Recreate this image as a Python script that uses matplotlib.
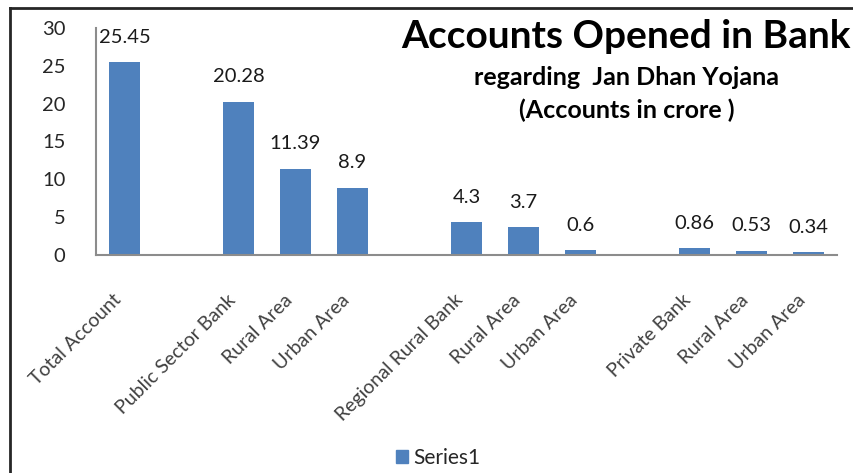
import matplotlib
matplotlib.use("Agg")
import matplotlib.pyplot as plt
from matplotlib.lines import Line2D
from matplotlib.patches import Patch

plt.rcParams['font.family'] = ['Lato', 'DejaVu Sans']

categories = ["Total Account", "", "Public Sector Bank", "Rural Area", "Urban Area", "",
              "Regional Rural Bank", "Rural Area", "Urban Area", "",
              "Private Bank", "Rural Area", "Urban Area"]
values = [25.45, None, 20.28, 11.39, 8.9, None, 4.3, 3.7, 0.6, None, 0.86, 0.53, 0.34]
value_labels = ["25.45", "", "20.28", "11.39", "8.9", "", "4.3", "3.7", "0.6", "", "0.86", "0.53", "0.34"]
series_name = "Series1"
yticks = [0, 5, 10, 15, 20, 25, 30]

W, H = 854, 473
fig = plt.figure(figsize=(W / 100, H / 100), dpi=100)
ax = fig.add_axes([96 / W, 1 - 255 / H, (837 - 96) / W, (255 - 28) / H])

bar_color = '#4F81BD'
idx = [i for i, v in enumerate(values) if v is not None]
vals = [values[i] for i in idx]
bars = ax.bar(idx, vals, width=0.56, color=bar_color)
for i, v in zip(idx, vals):
    ax.annotate(value_labels[i], (i, v), xytext=(0, 18), textcoords='offset points',
                ha='center', va='center', fontsize=14.5, color='#1a1a1a')

ax.set_xlim(-0.5, len(categories) - 0.5)
ax.set_ylim(0, 30)
ax.set_yticks(yticks)
ax.set_yticklabels([str(t) for t in yticks], fontsize=14.5, color='#262626')
ax.set_xticks(range(len(categories)))
ax.set_xticklabels(categories, rotation=45, ha='right', va='top',
                   fontsize=14, color='#404040')
ax.tick_params(axis='x', length=0, pad=26)
ax.tick_params(axis='y', length=0, pad=22)
for lbl in ax.get_yticklabels():
    lbl.set_horizontalalignment('right')
for s in ['top', 'right']:
    ax.spines[s].set_visible(False)
for s in ['left', 'bottom']:
    ax.spines[s].set_color('#8c8c8c')
    ax.spines[s].set_linewidth(1.5)

fig.text(626 / W, 1 - 36 / H, "Accounts Opened in Bank", ha='center', va='center',
         fontsize=28, fontweight='bold', color='black')
fig.text(627 / W, 1 - 77 / H, "regarding  Jan Dhan Yojana", ha='center', va='center',
         fontsize=18, fontweight='bold', color='black')
fig.text(627 / W, 1 - 110 / H, "(Accounts in crore )", ha='center', va='center',
         fontsize=18, fontweight='bold', color='black')

leg = fig.legend(handles=[Patch(color=bar_color, label=series_name)],
                 loc='center', bbox_to_anchor=(438 / W, 1 - 458 / H), frameon=False,
                 fontsize=15, handlelength=0.55, handleheight=0.55, handletextpad=0.25)
for t in leg.get_texts():
    t.set_color('#262626')

# outer chart border (top and left edges)
fig.add_artist(Line2D([10 / W, 1.0], [1 - 8 / H, 1 - 8 / H], transform=fig.transFigure,
                      color='#262626', linewidth=2))
fig.add_artist(Line2D([10 / W, 10 / W], [0, 1 - 8 / H], transform=fig.transFigure,
                      color='#262626', linewidth=2))

fig.savefig('out.png', dpi=100)
